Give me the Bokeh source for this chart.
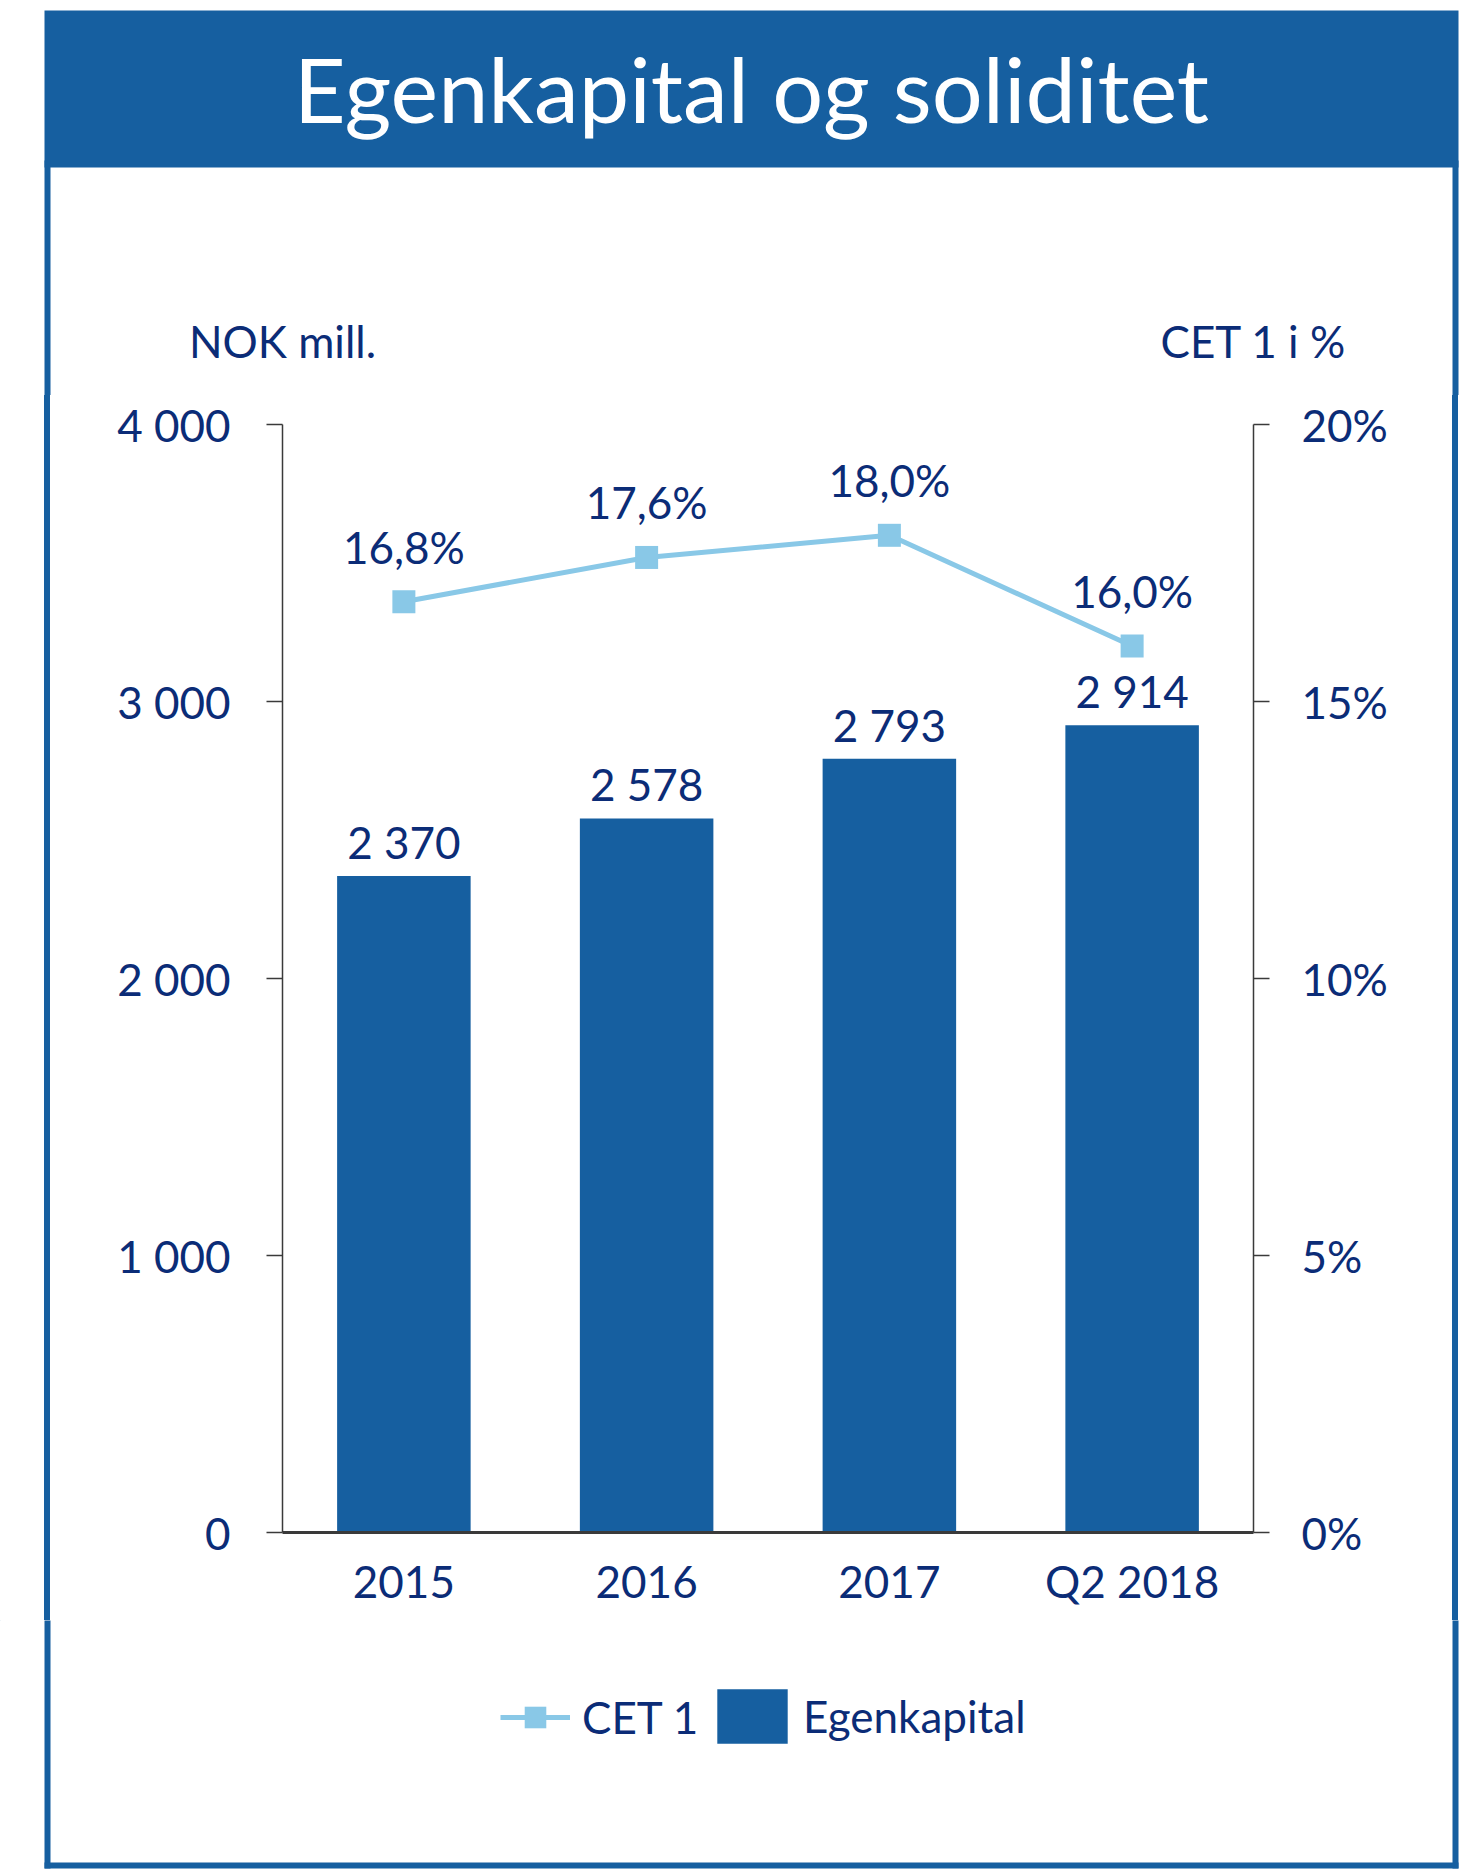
from bokeh.plotting import figure
from bokeh.layouts import column, row
from bokeh.models import (Range1d, FactorRange, LinearAxis, FixedTicker, ColumnDataSource,
                          Legend, LegendItem, Spacer)
from bokeh.core.properties import value
from bokeh.embed import file_html
from bokeh.resources import INLINE

# ---- data ----
categories = ["2015", "2016", "2017", "Q2 2018"]
egenkapital = [2370, 2578, 2793, 2914]
cet1 = [16.8, 17.6, 18.0, 16.0]
left_ticks = [0, 1000, 2000, 3000, 4000]
left_tick_labels = ["0", "1 000", "2 000", "3 000", "4 000"]
right_ticks = [0, 5, 10, 15, 20]
right_tick_labels = ["0%", "5%", "10%", "15%", "20%"]
title_text = "Egenkapital og soliditet"
left_axis_title = "NOK mill."
right_axis_title = "CET 1 i %"
series_names = ["CET 1", "Egenkapital"]
y_max = 4000
pct_max = 20

FONT = "Lato"
NAVY = "#0B2C77"
BLUE = "#165FA0"
LIGHT = "#89C8E7"
AXIS = "#3A3A3A"
FS = "44px"

# ---- page layout (pixels) ----
W, H = 1466, 1869
BX0, BX1 = 44, 1458        # outer edges of the blue frame
BW = 6                     # frame line width
HEAD_H = 395               # header strip height
MID_BOTTOM = 1620          # bottom of the chart strip
FL, FR, FT, FB = 282, 1253, 424, 1532   # plot frame edges on the page
MID_H = MID_BOTTOM - HEAD_H


def deco(x0, x1, y0, y1):
    """an axis-less figure whose data coordinates equal page pixels"""
    f = figure(width=x1 - x0, height=y1 - y0, x_range=Range1d(x0, x1), y_range=Range1d(y1, y0),
               min_border=0, x_axis_type=None, y_axis_type=None,
               output_backend="svg", toolbar_location=None, tools="")
    f.grid.visible = False
    f.outline_line_color = None
    f.background_fill_color = "white"
    f.border_fill_color = "white"
    return f


def blue_rect(f, l, r, t, b):
    f.quad(left=[l], right=[r], top=[t], bottom=[b], fill_color=BLUE, line_color=None)


# ---- header: title bar, frame sides, axis titles ----
head = deco(0, W, 0, HEAD_H)
blue_rect(head, BX0, BX1, 10, 167)
blue_rect(head, BX0, BX0 + BW, 160, HEAD_H + 10)
blue_rect(head, BX1 - BW, BX1, 160, HEAD_H + 10)
head.text(x=[(BX0 + BX1) / 2], y=[87], text=[title_text], text_align="center",
          text_baseline="middle", text_font=value(FONT), text_font_size="90px", text_color="white")
head.text(x=[FL, FR], y=[340, 340], text=[left_axis_title, right_axis_title], text_align="center",
          text_baseline="middle", text_font=value(FONT), text_font_size=FS, text_color=NAVY)

# ---- main chart ----
src = ColumnDataSource(dict(
    cat=categories, eq=egenkapital, cet=cet1,
    eq_lbl=[f"{v:,}".replace(",", " ") for v in egenkapital],
    cet_lbl=[f"{v:.1f}%".replace(".", ",") for v in cet1],
))

mx0, mx1 = BX0 + BW, BX1 - BW
p = figure(x_range=FactorRange(factors=categories), y_range=Range1d(0, y_max),
           width=mx1 - mx0, height=MID_H,
           min_border_left=FL - mx0, min_border_right=mx1 - FR,
           min_border_top=FT - HEAD_H, min_border_bottom=MID_BOTTOM - FB,
           output_backend="svg", toolbar_location=None, tools="")
p.extra_y_ranges = {"pct": Range1d(0, pct_max)}
p.xgrid.visible = False
p.ygrid.visible = False
p.outline_line_color = None
p.background_fill_color = "white"
p.border_fill_color = "white"

right = LinearAxis(y_range_name="pct")
p.add_layout(right, "right")

left = p.left[0]
for ax, ticks, labels, so in ((left, left_ticks, left_tick_labels, 36),
                              (right, right_ticks, right_tick_labels, 32)):
    ax.ticker = FixedTicker(ticks=ticks)
    ax.major_label_overrides = dict(zip(ticks, labels))
    ax.major_tick_out = 16
    ax.major_tick_in = 0
    ax.minor_tick_line_color = None
    ax.axis_line_color = AXIS
    ax.axis_line_width = 1.5
    ax.major_tick_line_color = AXIS
    ax.major_tick_line_width = 1.5
    ax.major_label_standoff = so
    ax.major_label_text_font = FONT
    ax.major_label_text_font_size = FS
    ax.major_label_text_color = NAVY

xa = p.below[0]
xa.major_tick_line_color = None
xa.major_tick_out = 0
xa.major_tick_in = 0
xa.axis_line_color = AXIS
xa.axis_line_width = 3
xa.major_label_standoff = 22
xa.major_label_text_font = FONT
xa.major_label_text_font_size = FS
xa.major_label_text_color = NAVY

p.vbar(x="cat", top="eq", width=0.55, source=src, fill_color=BLUE, line_color=None)
p.line(x="cat", y="cet", source=src, y_range_name="pct", line_color=LIGHT, line_width=5)
p.scatter(x="cat", y="cet", source=src, y_range_name="pct", marker="square", size=23,
          fill_color=LIGHT, line_color=None)

p.text(x="cat", y="eq", text="eq_lbl", source=src, text_align="center", text_baseline="alphabetic",
       y_offset=-34, text_font=value(FONT), text_font_size=FS, text_color=NAVY)
p.text(x="cat", y="cet", text="cet_lbl", source=src, y_range_name="pct", text_align="center",
       text_baseline="alphabetic", y_offset=-55, text_font=value(FONT), text_font_size=FS, text_color=NAVY)

middle = row(Spacer(width=BX0, height=MID_H),
             Spacer(width=BW, height=MID_H, styles={"background-color": BLUE}),
             p,
             Spacer(width=BW, height=MID_H, styles={"background-color": BLUE}),
             Spacer(width=W - BX1, height=MID_H))

# ---- footer: legend and frame bottom ----
foot = deco(0, W, MID_BOTTOM, H)
blue_rect(foot, BX0, BX0 + BW, MID_BOTTOM - 10, H - 1)
blue_rect(foot, BX1 - BW, BX1, MID_BOTTOM - 10, H - 1)
blue_rect(foot, BX0, BX1, H - 1 - BW, H - 1)
# legend key glyphs (placed outside the visible range; only their legend swatches show)
k_line = foot.line(x=[-50, -40], y=[-50, -50], line_color=LIGHT, line_width=5)
k_pts = foot.scatter(x=[-45], y=[-50], marker="square", size=23, fill_color=LIGHT, line_color=None)
k_bar = foot.vbar(x=[-45], top=[-50], bottom=[-60], width=5, fill_color=BLUE, line_color=None)

common = dict(orientation="horizontal", padding=0, margin=0, border_line_color=None,
              background_fill_alpha=0, label_text_font=FONT, label_text_font_size=FS,
              label_text_color=NAVY)
leg1 = Legend(items=[LegendItem(label=series_names[0], renderers=[k_line, k_pts])],
              location=(500, H - 1744), glyph_width=70, glyph_height=54, label_height=54,
              label_standoff=12, **common)
leg2 = Legend(items=[LegendItem(label=series_names[1], renderers=[k_bar])],
              location=(708, H - 1750), glyph_width=88, glyph_height=68, label_height=68,
              label_standoff=7, **common)
foot.add_layout(leg1)
foot.add_layout(leg2)

layout = column(head, middle, foot)
open("out.html", "w").write(file_html(layout, INLINE))
